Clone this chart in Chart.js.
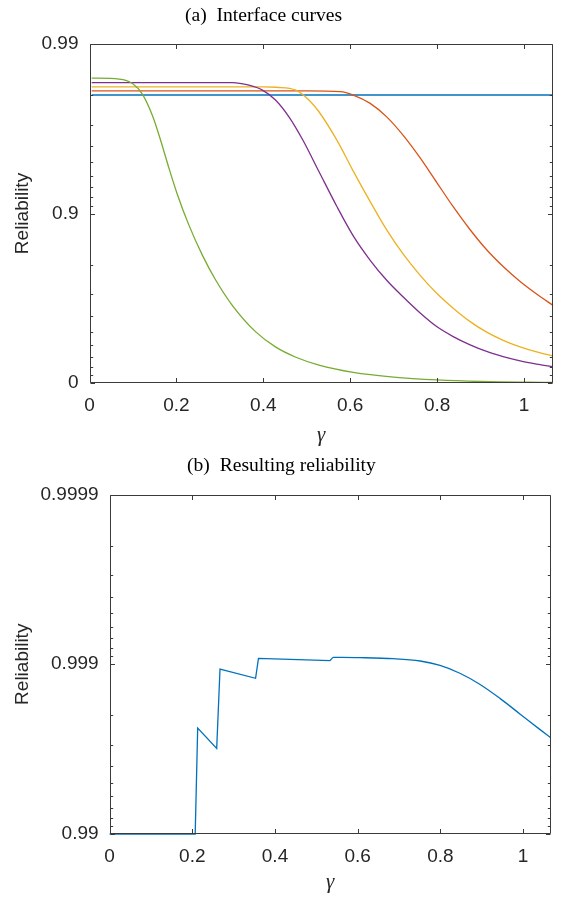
<!DOCTYPE html>
<html><head><meta charset="utf-8">
<script src="https://cdn.jsdelivr.net/npm/chart.js@4.4.1/dist/chart.umd.min.js"></script>
<style>
html,body{margin:0;padding:0;background:#fff;}
body{width:561px;height:899px;position:relative;overflow:hidden;}
.wrap{position:absolute;left:0;width:561px;}
.ttl{position:absolute;font-family:'Liberation Serif','Times New Roman',serif;font-size:19.6px;line-height:19px;color:#000;white-space:pre;}
</style></head><body>
<div class="wrap" style="top:0;height:463px;"><canvas id="c1"></canvas></div>
<div class="wrap" style="top:463px;height:436px;"><canvas id="c2"></canvas></div>
<div class="ttl" style="left:185px;top:5px;">(a)  Interface curves</div>
<div class="ttl" style="left:187px;top:455px;">(b)  Resulting reliability</div>
<script>
// ---------- data (reliability values) ----------
const xTicks = [0, 0.2, 0.4, 0.6, 0.8, 1];
const xMax = 1.0667;

// (a) interface curves
const topYTickLabels = ['0', '0.9', '0.99'];
const blueX   = [0.005, 1.0667];
const blueR   = [0.98, 0.98];
const orangeX = [0.005, 0.5, 0.577, 0.607, 0.646, 0.684, 0.722, 0.761, 0.799, 0.837, 0.876, 0.914, 0.952, 0.991, 1.029, 1.0667];
const orangeR = [0.9811, 0.9811, 0.9809, 0.9800, 0.9776, 0.9731, 0.9654, 0.9530, 0.9345, 0.9088, 0.8753, 0.8363, 0.7944, 0.7482, 0.7015, 0.6517];
const yellowX = [0.005, 0.40, 0.43, 0.475, 0.505, 0.528, 0.569, 0.607, 0.646, 0.684, 0.722, 0.761, 0.799, 0.837, 0.876, 0.914, 0.952, 0.991, 1.029, 1.0667];
const yellowR = [0.9821, 0.9821, 0.9820, 0.9813, 0.9786, 0.9749, 0.9632, 0.9438, 0.9149, 0.8750, 0.8262, 0.7683, 0.7042, 0.6378, 0.5655, 0.4988, 0.4402, 0.3876, 0.3439, 0.3066];
const purpleX = [0.005, 0.329, 0.367, 0.398, 0.428, 0.459, 0.49, 0.528, 0.569, 0.607, 0.646, 0.684, 0.722, 0.761, 0.799, 0.837, 0.876, 0.914, 0.952, 0.991, 1.029, 1.0667];
const purpleR = [0.9831, 0.9831, 0.9825, 0.9813, 0.9786, 0.9731, 0.9635, 0.9435, 0.9094, 0.8645, 0.8112, 0.7523, 0.6888, 0.6136, 0.5355, 0.4679, 0.4043, 0.3484, 0.3018, 0.2604, 0.2273, 0.1983];
const greenX  = [0.005, 0.068, 0.099, 0.122, 0.145, 0.164, 0.183, 0.202, 0.229, 0.26, 0.29, 0.329, 0.382, 0.428, 0.475, 0.528, 0.607, 0.7, 0.8, 0.9, 1.0667];
const greenR  = [0.9841, 0.9839, 0.9829, 0.9802, 0.9735, 0.9628, 0.9458, 0.9231, 0.8825, 0.8234, 0.754, 0.6509, 0.5023, 0.3876, 0.2953, 0.2166, 0.135, 0.0774, 0.0406, 0.0205, 0.0069];

// (b) resulting reliability
const botYTickLabels = ['0.99', '0.999', '0.9999'];
const resX = [0, 0.207, 0.213, 0.259, 0.267, 0.353, 0.360, 0.533, 0.540, 0.605, 0.686, 0.751, 0.799, 0.847, 0.896, 0.944, 0.993, 1.041, 1.0667];
const resR = [0.99, 0.99, 0.99762, 0.99687, 0.998933, 0.99879, 0.999077, 0.999047, 0.99909, 0.999086, 0.999073, 0.999043, 0.998984, 0.99887, 0.998685, 0.998411, 0.998032, 0.997573, 0.99729];
const resSmoothFrom = 8; // index where the smooth tail of the curve begins

// ---------- helpers ----------
const AXIS = '#3a3a3a';
const TXT = '#262626';
const pts = (xs, rs) => xs.map((x, i) => ({x, y: 1 - rs[i]}));
const exps = labels => labels.map(l => Math.round(Math.log10(1 - parseFloat(l))));

function logTicks(labels) {
  const e = exps(labels);
  const lo = Math.min(...e), hi = Math.max(...e);
  const t = [];
  for (let k = lo; k < hi; k++) for (let m = 1; m <= 9; m++) t.push({value: m * Math.pow(10, k), major: m === 1});
  t.push({value: Math.pow(10, hi), major: true});
  return t;
}
function logLabel(labels) {
  const e = exps(labels);
  return v => {
    const l = Math.log10(v), r = Math.round(l);
    if (Math.abs(l - r) > 1e-6) return '';
    const i = e.indexOf(r);
    return i >= 0 ? labels[i] : '';
  };
}

const boxPlugin = {
  id: 'boxTicks',
  afterDatasetsDraw(chart) {
    const {ctx, chartArea: a, scales: {x, y}} = chart;
    const L = Math.round(a.left) + 0.5, R = Math.round(a.right) - 0.5;
    const T = Math.round(a.top) + 0.5, B = Math.round(a.bottom) - 0.5;
    ctx.save();
    ctx.strokeStyle = AXIS; ctx.lineWidth = 1;
    ctx.beginPath();
    ctx.rect(L, T, R - L, B - T);
    x.ticks.forEach(t => {
      const px = Math.round(x.getPixelForValue(t.value)) + 0.5;
      ctx.moveTo(px, B); ctx.lineTo(px, B - 4.5);
      ctx.moveTo(px, T); ctx.lineTo(px, T + 4.5);
    });
    y.ticks.forEach(t => {
      const py = Math.round(y.getPixelForValue(t.value)) + 0.5;
      const len = t.major ? 4.5 : 2.7;
      ctx.moveTo(L, py); ctx.lineTo(L + len, py);
      ctx.moveTo(R, py); ctx.lineTo(R - len, py);
    });
    ctx.stroke();
    ctx.restore();
  }
};

function makeChart(id, datasets, labels, cfg) {
  const e = exps(labels);
  return new Chart(document.getElementById(id), {
    type: 'line',
    data: {datasets},
    options: {
      responsive: true, maintainAspectRatio: false, animation: false, devicePixelRatio: 1,
      events: [],
      layout: {padding: {top: cfg.padTop, right: cfg.padRight, left: 0, bottom: 0}},
      plugins: {legend: {display: false}, tooltip: {enabled: false}, title: {display: false}},
      elements: {point: {radius: 0}},
      scales: {
        x: {
          type: 'linear', position: 'bottom', min: 0, max: xMax,
          grid: {display: false, drawTicks: false}, border: {display: false},
          afterBuildTicks: s => { s.ticks = xTicks.map(v => ({value: v})); },
          afterFit: s => { s.height = cfg.xAxisH; },
          ticks: {autoSkip: false, maxRotation: 0, padding: 11, color: TXT,
                  font: {family: 'Liberation Sans', size: 19}, callback: v => String(v)},
          title: {display: true, text: 'γ', color: TXT,
                  font: {family: 'Liberation Serif', style: 'italic', size: 21},
                  padding: {top: 0, bottom: cfg.gammaPad}}
        },
        y: {
          type: 'logarithmic', position: 'left', reverse: true,
          min: Math.pow(10, Math.min(...e)), max: Math.pow(10, Math.max(...e)),
          grid: {display: false, drawTicks: false}, border: {display: false},
          afterBuildTicks: s => { s.ticks = logTicks(labels); },
          afterFit: s => { s.width = cfg.yAxisW; },
          ticks: {autoSkip: false, padding: 11, color: TXT,
                  font: {family: 'Liberation Sans', size: 19}, callback: logLabel(labels)},
          title: {display: true, text: 'Reliability', color: TXT,
                  font: {family: 'Liberation Sans', size: 19},
                  padding: {top: 11, bottom: 0}}
        }
      }
    },
    plugins: [boxPlugin]
  });
}

const ds = (data, color, order, smooth, width) => ({
  data, borderColor: color, borderWidth: width || 1.3, fill: false, order, clip: false,
  cubicInterpolationMode: smooth ? 'monotone' : 'default', tension: 0
});

makeChart('c1', [
  ds(pts(blueX, blueR), '#0072BD', 5, true, 1.6),
  ds(pts(orangeX, orangeR), '#D95319', 4, true),
  ds(pts(yellowX, yellowR), '#EDB120', 3, true),
  ds(pts(purpleX, purpleR), '#7E2F8E', 2, true),
  ds(pts(greenX, greenR), '#77AC30', 1, true)
], topYTickLabels, {padTop: 44, padRight: 8, xAxisH: 80, yAxisW: 89.5, gammaPad: 15});

const resPts = pts(resX, resR);
makeChart('c2', [
  ds(resPts.slice(0, resSmoothFrom + 1), '#0072BD', 1, false),
  ds(resPts.slice(resSmoothFrom), '#0072BD', 1, true)
], botYTickLabels, {padTop: 31.5, padRight: 10.3, xAxisH: 65, yAxisW: 109.6, gammaPad: 4});
</script>
</body></html>
